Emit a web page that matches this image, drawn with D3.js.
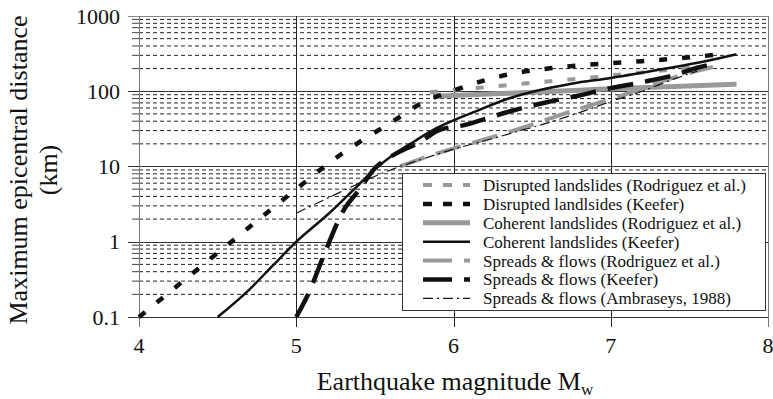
<!DOCTYPE html>
<html>
<head>
<meta charset="utf-8">
<script src="https://cdn.jsdelivr.net/npm/d3@7"></script>
<style>
  html, body { margin: 0; padding: 0; background: #fff; }
  svg { display: block; }
  svg text { font-family: "Times New Roman", "Liberation Serif", Tinos, Times, "DejaVu Serif", "Noto Serif", serif; }
</style>
</head>
<body>
<svg id="chart" width="773" height="399"></svg>
<script>
// Magnitude (Mw) vs. maximum epicentral distance (km)
const disruptedRodriguez = [[5.85,97],[6.0,104],[6.2,113],[6.4,124],[6.6,135],[6.8,147],[7.0,162],[7.2,178],[7.4,195],[7.6,218]];
const disruptedKeefer = [[4.0,0.1],[4.6,1.05],[5.0,5.0],[5.2,10.8],[5.4,21],[5.6,38],[5.8,70],[6.0,102],[6.2,140],[6.4,175],[6.6,200],[6.8,220],[7.0,236],[7.2,251],[7.4,270],[7.7,310]];
const coherentRodriguez = [[5.88,86],[6.3,93],[6.8,103],[7.1,110],[7.8,124]];
const coherentKeefer = [[4.5,0.1],[4.7,0.23],[4.85,0.48],[5.0,1.0],[5.2,2.3],[5.4,5.8],[5.5,9.2],[5.6,13.5],[5.75,21.5],[5.9,33],[6.0,41],[6.15,55],[6.35,80],[6.55,104],[6.75,126],[7.0,150],[7.35,200],[7.6,250],[7.8,310]];
const spreadsRodriguez = [[5.66,10],[5.9,15],[6.1,20],[6.3,26.5],[6.5,36],[6.7,50],[6.9,68],[7.1,92],[7.3,130],[7.5,175],[7.65,210]];
const spreadsKeefer = [[5.0,0.1],[5.08,0.21],[5.18,0.7],[5.3,2.6],[5.4,4.9],[5.5,9.5],[5.6,13.5],[5.8,22],[5.9,30],[6.08,36],[6.2,43],[6.4,57],[6.6,72],[6.8,88],[7.0,110],[7.2,132],[7.4,163],[7.55,205],[7.68,237]];
const spreadsAmbraseys = [[5.0,2.4],[5.2,3.8],[5.4,6.0],[5.6,9.0],[5.8,12.5],[6.0,17],[6.2,22],[6.4,29],[6.6,38],[6.8,52],[7.0,73],[7.2,100],[7.4,145],[7.55,185]];

const xTicks = [4, 5, 6, 7, 8];
const yTicks = [0.1, 1, 10, 100, 1000];
const yTickLabels = ["0.1", "1", "10", "100", "1000"];

const seriesNames = [
  "Disrupted landslides (Rodriguez et al.)",
  "Disrupted landlsides (Keefer)",
  "Coherent landslides (Rodriguez et al.)",
  "Coherent landslides (Keefer)",
  "Spreads & flows (Rodriguez et al.)",
  "Spreads & flows (Keefer)",
  "Spreads & flows (Ambraseys, 1988)"
];

const GREY = "#999";
const BLACK = "#111";
const series = [
  { name: seriesNames[0], data: disruptedRodriguez, color: GREY, width: 4, dash: "8,15", legendDash: "9,11" },
  { name: seriesNames[1], data: disruptedKeefer, color: BLACK, width: 4.5, dash: "8,15", legendDash: "9,11" },
  { name: seriesNames[2], data: coherentRodriguez, color: GREY, width: 5, dash: null, legendDash: null },
  { name: seriesNames[3], data: coherentKeefer, color: BLACK, width: 2.5, dash: null, legendDash: null },
  { name: seriesNames[4], data: spreadsRodriguez, color: GREY, width: 4, dash: "26,12", legendDash: "29,12" },
  { name: seriesNames[5], data: spreadsKeefer, color: BLACK, width: 4.5, dash: "26,12", legendDash: "29,12" },
  { name: seriesNames[6], data: spreadsAmbraseys, color: BLACK, width: 1.2, dash: "10,4,2,4", legendDash: "10,4,2,4" }
];

const svg = d3.select("#chart");
const x = d3.scaleLinear().domain([4, 8]).range([139, 768]);
const y = d3.scaleLog().domain([0.1, 1000]).range([317, 16]);

const grid = svg.append("g");

// minor horizontal grid (2..9 within each decade)
const minor = [];
for (let d = 0.1; d < 1000; d *= 10) {
  for (let k = 2; k <= 9; k++) minor.push(+(d * k).toPrecision(6));
}
grid.selectAll("line.minor").data(minor).join("line")
  .attr("class", "minor")
  .attr("x1", x(4)).attr("x2", x(8))
  .attr("y1", d => y(d)).attr("y2", d => y(d))
  .attr("stroke", "#222").attr("stroke-width", 1).attr("stroke-dasharray", "4,3");

// minor ticks on the left
grid.selectAll("line.mtick").data(minor).join("line")
  .attr("x1", 132).attr("x2", x(4))
  .attr("y1", d => y(d)).attr("y2", d => y(d))
  .attr("stroke", "#444").attr("stroke-width", 1);

// major horizontal grid
grid.selectAll("line.major").data(yTicks).join("line")
  .attr("x1", 128).attr("x2", x(8))
  .attr("y1", d => Math.round(y(d)) + 0.5).attr("y2", d => Math.round(y(d)) + 0.5)
  .attr("stroke", (d, i) => i === yTicks.length - 1 ? "#888" : "#333").attr("stroke-width", 1);

// vertical grid + bottom ticks
grid.selectAll("line.vgrid").data(xTicks).join("line")
  .attr("x1", d => Math.round(x(d)) + 0.5).attr("x2", d => Math.round(x(d)) + 0.5)
  .attr("y1", y(1000)).attr("y2", 327)
  .attr("stroke", d => (d === 4 || d === 8) ? "#777" : "#222").attr("stroke-width", 1);

// curves
const line = d3.line()
  .x(d => x(d[0]))
  .y(d => y(d[1]))
  .curve(d3.curveMonotoneX);

const curves = svg.append("g");
// draw in an order that keeps the thin lines visible
const drawOrder = [2, 4, 0, 1, 5, 3, 6];
drawOrder.forEach(i => {
  const s = series[i];
  curves.append("path")
    .attr("d", line(s.data))
    .attr("fill", "none")
    .attr("stroke", s.color)
    .attr("stroke-width", s.width)
    .attr("stroke-dasharray", s.dash)
    .attr("stroke-linecap", "butt");
});

// axis tick labels
svg.append("g").selectAll("text").data(yTicks).join("text")
  .attr("x", 120).attr("y", d => y(d))
  .attr("dy", "0.35em")
  .attr("text-anchor", "end")
  .attr("font-size", 22)
  .attr("fill", "#111")
  .text((d, i) => yTickLabels[i]);

svg.append("g").selectAll("text").data(xTicks).join("text")
  .attr("x", d => x(d)).attr("y", 353)
  .attr("text-anchor", "middle")
  .attr("font-size", 22)
  .attr("fill", "#111")
  .text(d => d);

// axis titles
const xt = svg.append("text")
  .attr("x", 455).attr("y", 390)
  .attr("text-anchor", "middle")
  .attr("font-size", 26)
  .attr("fill", "#111");
xt.append("tspan").text("Earthquake magnitude M");
xt.append("tspan").attr("font-size", 17).attr("dy", 5).text("w");

const yt = svg.append("text")
  .attr("transform", "translate(0,170) rotate(-90)")
  .attr("text-anchor", "middle")
  .attr("font-size", 26)
  .attr("fill", "#111");
yt.append("tspan").attr("x", 0).attr("y", 27).text("Maximum epicentral distance");
yt.append("tspan").attr("x", 0).attr("y", 57).text("(km)");

// legend
const lg = svg.append("g");
lg.append("rect")
  .attr("x", 402.5).attr("y", 173.5).attr("width", 363).attr("height", 137)
  .attr("fill", "#fff").attr("stroke", "#333").attr("stroke-width", 1);

const rowY = i => 185 + i * 18.9;
series.forEach((s, i) => {
  lg.append("line")
    .attr("x1", 423).attr("x2", 470)
    .attr("y1", rowY(i)).attr("y2", rowY(i))
    .attr("stroke", s.color)
    .attr("stroke-width", s.width)
    .attr("stroke-dasharray", s.legendDash);
  lg.append("text")
    .attr("x", 483).attr("y", rowY(i))
    .attr("dy", "0.35em")
    .attr("font-size", 17)
    .attr("fill", "#111")
    .text(s.name);
});
</script>
</body>
</html>
